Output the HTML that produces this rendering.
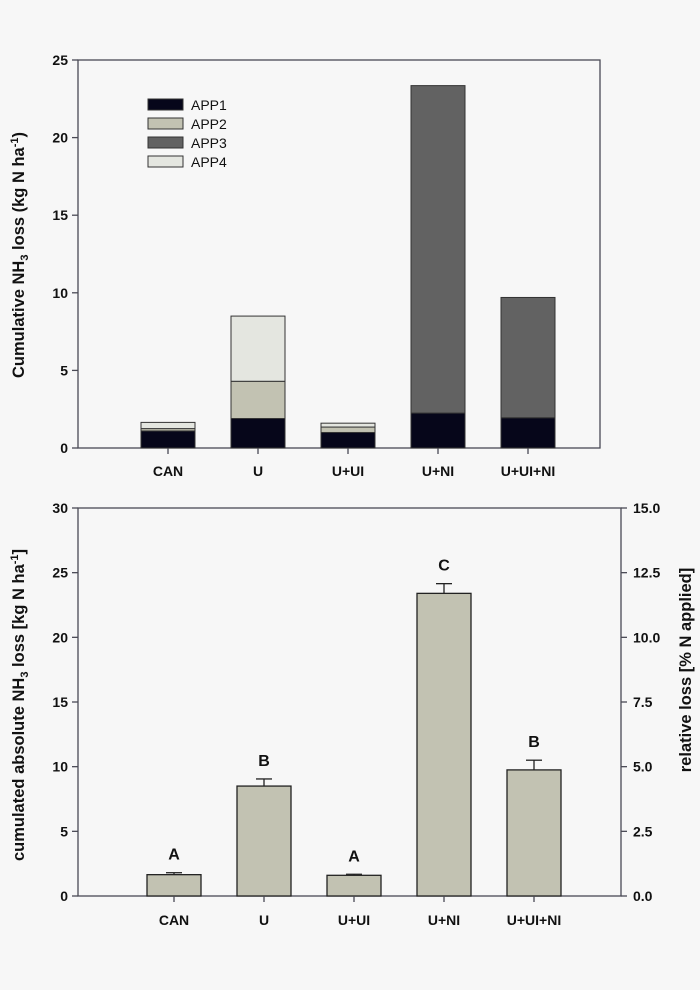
<!DOCTYPE html>
<html><head><meta charset="utf-8"><style>
body{margin:0;background:#f7f7f7}
svg{display:block;font-family:"Liberation Sans",Arial,sans-serif}
</style></head><body>
<svg id="c" width="700" height="990" viewBox="0 0 700 990"></svg>
<script>
const categories=["CAN","U","U+UI","U+NI","U+UI+NI"];
const app1=[1.1,1.9,1.0,2.25,1.95];
const app2=[0.15,2.4,0.35,0,0];
const app3=[0,0,0,21.1,7.75];
const app4=[0.4,4.2,0.25,0,0];
const totals=[1.65,8.5,1.6,23.4,9.75];
const errors=[0.15,0.55,0.08,0.75,0.75];
const letters=["A","B","A","C","B"];
const topTicks=[0,5,10,15,20,25];
const botTicks=[0,5,10,15,20,25,30];
const rightTicks=["0.0","2.5","5.0","7.5","10.0","12.5","15.0"];
const series=[["APP1",app1,"#06061a"],["APP2",app2,"#c2c2b2"],["APP3",app3,"#626262"],["APP4",app4,"#e4e6e0"]];
const NS="http://www.w3.org/2000/svg",svg=document.getElementById('c');
function el(t,a,txt){const e=document.createElementNS(NS,t);for(const k in a)e.setAttribute(k,a[k]);if(txt!==undefined)e.textContent=txt;svg.appendChild(e);return e;}
const ax="#4a4a55";
// TOP
const T={l:78,r:600,t:60,b:448,max:25,x0:168,dx:90,bw:54};
const ty=v=>T.b-(T.b-T.t)*v/T.max, tx=i=>T.x0+i*T.dx;
let e=el('rect',{x:T.l,y:T.t,width:T.r-T.l,height:T.b-T.t,fill:"none",stroke:ax,"stroke-width":1.3});

topTicks.forEach(v=>{el('line',{x1:T.l-6,x2:T.l,y1:ty(v),y2:ty(v),stroke:ax,"stroke-width":1.3});
 e=el('text',{x:T.l-10,y:ty(v)+5,"text-anchor":"end","font-size":14,"font-weight":"bold",fill:"#111"},v);
 });
categories.forEach((c,i)=>{let base=0;
 series.forEach(s=>{const v=s[1][i];if(v>0){e=el('rect',{x:tx(i)-T.bw/2,y:ty(base+v),width:T.bw,height:ty(base)-ty(base+v),fill:s[2],stroke:"#333",
 "stroke-width":1});}base+=v;});
 el('line',{x1:tx(i),x2:tx(i),y1:T.b,y2:T.b+6,stroke:ax,"stroke-width":1.3});
 e=el('text',{x:tx(i),y:T.b+28,"text-anchor":"middle","font-size":14,"font-weight":"bold",fill:"#111"},c);
 });
series.forEach((s,k)=>{const y=99+k*19;
 e=el('rect',{x:148,y:y,width:35,height:11,fill:s[2],stroke:"#333","stroke-width":1});
 
 e=el('text',{x:191,y:y+11,"font-size":14,fill:"#111"},s[0]);
 });
e=el('text',{transform:"translate(24,255) rotate(-90)","text-anchor":"middle","font-size":16.5,"font-weight":"bold",fill:"#111"});
e.innerHTML='Cumulative NH<tspan font-size="11" dy="4">3</tspan><tspan dy="-4"> loss (kg N ha</tspan><tspan font-size="11" dy="-6">-1</tspan><tspan dy="6">)</tspan>';

// BOTTOM
const B={l:78,r:621,t:508,b:896,max:30,x0:174,dx:90,bw:54};
const by=v=>B.b-(B.b-B.t)*v/B.max, bx=i=>B.x0+i*B.dx;
e=el('rect',{x:B.l,y:B.t,width:B.r-B.l,height:B.b-B.t,fill:"none",stroke:ax,"stroke-width":1.3});

botTicks.forEach(v=>{el('line',{x1:B.l-6,x2:B.l,y1:by(v),y2:by(v),stroke:ax,"stroke-width":1.3});
 e=el('text',{x:B.l-10,y:by(v)+5,"text-anchor":"end","font-size":14,"font-weight":"bold",fill:"#111"},v);
 });
rightTicks.forEach((t,k)=>{const y=B.b-(B.b-B.t)*k/6;
 el('line',{x1:B.r,x2:B.r+6,y1:y,y2:y,stroke:ax,"stroke-width":1.3});
 e=el('text',{x:B.r+12,y:y+5,"font-size":14,"font-weight":"bold",fill:"#111"},t);
 });
categories.forEach((c,i)=>{
 e=el('rect',{x:bx(i)-B.bw/2,y:by(totals[i]),width:B.bw,height:B.b-by(totals[i]),fill:"#c2c2b2",stroke:"#222","stroke-width":1.3});
 
 const ye=by(totals[i]+errors[i]);
 el('line',{x1:bx(i),x2:bx(i),y1:by(totals[i]),y2:ye,stroke:"#222","stroke-width":1.3});
 el('line',{x1:bx(i)-8,x2:bx(i)+8,y1:ye,y2:ye,stroke:"#222","stroke-width":1.3});
 e=el('text',{x:bx(i),y:ye-13,"text-anchor":"middle","font-size":16,"font-weight":"bold",fill:"#111"},letters[i]);
 
 el('line',{x1:bx(i),x2:bx(i),y1:B.b,y2:B.b+6,stroke:ax,"stroke-width":1.3});
 e=el('text',{x:bx(i),y:B.b+29,"text-anchor":"middle","font-size":14,"font-weight":"bold",fill:"#111"},c);
 });
e=el('text',{transform:"translate(24,705) rotate(-90)","text-anchor":"middle","font-size":16.5,"font-weight":"bold",fill:"#111"});
e.innerHTML='cumulated absolute NH<tspan font-size="11" dy="4">3</tspan><tspan dy="-4"> loss [kg N ha</tspan><tspan font-size="11" dy="-6">-1</tspan><tspan dy="6">]</tspan>';

e=el('text',{transform:"translate(691,670) rotate(-90)","text-anchor":"middle","font-size":16.5,"font-weight":"bold",fill:"#111"},'relative loss [% N applied]');

</script>
</body></html>
